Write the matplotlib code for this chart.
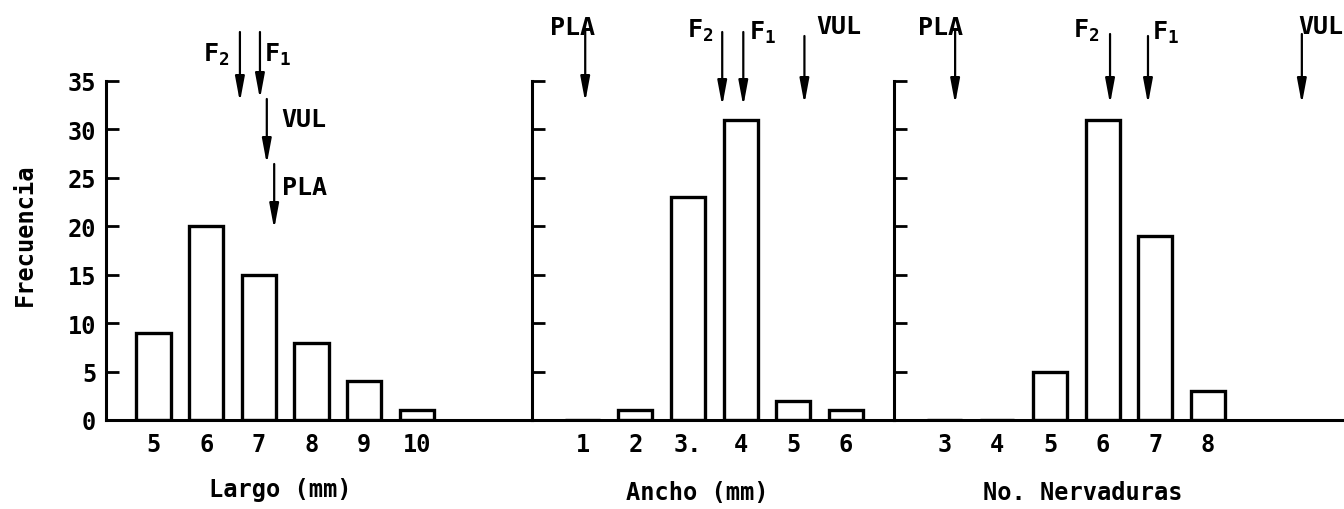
import matplotlib
matplotlib.use("Agg")
import matplotlib.pyplot as plt

# typewriter look
plt.rcParams['font.family'] = 'DejaVu Sans Mono'
plt.rcParams['font.weight'] = 'bold'
plt.rcParams['mathtext.fontset'] = 'custom'
plt.rcParams['mathtext.rm'] = 'DejaVu Sans Mono:bold'

# data
largo_x = [5, 6, 7, 8, 9, 10]
largo_labels = ['5', '6', '7', '8', '9', '10']
largo_freq = [9, 20, 15, 8, 4, 1]

ancho_x = [1, 2, 3, 4, 5, 6]
ancho_labels = ['1', '2', '3.', '4', '5', '6']
ancho_freq = [0, 1, 23, 31, 2, 1]

nerv_x = [3, 4, 5, 6, 7, 8]
nerv_labels = ['3', '4', '5', '6', '7', '8']
nerv_freq = [0, 0, 5, 31, 19, 3]

# mean value of each group (arrow positions)
largo_marks = ['F$_2$', 'F$_1$', 'VUL', 'PLA']
largo_means = [6.64, 7.02, 7.15, 7.29]
ancho_marks = ['PLA', 'F$_2$', 'F$_1$', 'VUL']
ancho_means = [1.05, 3.65, 4.05, 5.21]
nerv_marks = ['PLA', 'F$_2$', 'F$_1$', 'VUL']
nerv_means = [3.20, 6.14, 6.86, 9.78]

yticks = [0, 5, 10, 15, 20, 25, 30, 35]

W, H = 1344, 510
PX = 72 / 100  # points per pixel
Y0 = 421        # pixel row of frequency 0
UNIT = 9.686    # pixels per frequency unit
YTOP = Y0 / UNIT
FS = 17


def ydat(py):
    return (Y0 - py) / UNIT


def make_axes(fig, left_px, right_px, xlim):
    ax = fig.add_axes([left_px / W, (H - Y0) / H, (right_px - left_px) / W, Y0 / H])
    ax.set_xlim(*xlim)
    ax.set_ylim(0, YTOP)
    for s in ['top', 'right']:
        ax.spines[s].set_visible(False)
    ax.spines['left'].set_bounds(0, 35)
    ax.spines['left'].set_linewidth(2.2)
    ax.spines['bottom'].set_linewidth(2.2)
    ax.set_yticks(yticks)
    ax.tick_params(axis='y', direction='in', length=9, width=2, labelsize=FS, pad=7)
    ax.tick_params(axis='x', length=0, labelsize=FS, pad=9)
    ax.patch.set_alpha(0)
    return ax


def draw_bars(ax, x, freq, labels):
    ax.bar(x, freq, width=0.65, fill=False, edgecolor='black', linewidth=2.4)
    ax.set_xticks(x)
    ax.set_xticklabels(labels)


def draw_arrows(ax, marks, means, layout):
    # layout: (top px, bottom px, label dx px, label y px, ha)
    for m, xm, (top, bot, dx, ly, ha) in zip(marks, means, layout):
        ax.annotate('', xy=(xm, ydat(bot)), xytext=(xm, ydat(top)),
                    arrowprops=dict(arrowstyle='-|>,head_length=1.5,head_width=0.28',
                                    mutation_scale=10, lw=1.6, color='black',
                                    shrinkA=0, shrinkB=0))
        ax.annotate(m, xy=(xm, ydat(ly)), xytext=(dx * PX, 0), textcoords='offset points',
                    ha=ha, va='center', fontsize=FS + 1)


fig = plt.figure(figsize=(W / 100, H / 100), dpi=100)

# Largo
ax1 = make_axes(fig, 106, 532, (4.10, 12.18))
draw_bars(ax1, largo_x, largo_freq, largo_labels)
draw_arrows(ax1, largo_marks, largo_means, [
    (33, 103, -10, 55, 'right'),
    (33, 100, 4, 55, 'left'),
    (100, 165, 14, 120, 'left'),
    (165, 230, 8, 188, 'left'),
])
ax1.text(-0.19, 0.442, 'Frecuencia', transform=ax1.transAxes, rotation=90,
         ha='center', va='center', fontsize=FS)
ax1.text(0.408, -0.164, 'Largo (mm)', transform=ax1.transAxes,
         ha='center', va='center', fontsize=FS)

# Ancho
ax2 = make_axes(fig, 532, 894, (0.04, 6.91))
draw_bars(ax2, ancho_x, ancho_freq, ancho_labels)
ax2.tick_params(axis='y', labelleft=False)
draw_arrows(ax2, ancho_marks, ancho_means, [
    (30, 103, -13, 28, 'center'),
    (33, 107, -9, 31, 'right'),
    (33, 107, 6, 33, 'left'),
    (37, 105, 12, 27, 'left'),
])
ax2.text(0.456, -0.17, 'Ancho (mm)', transform=ax2.transAxes,
         ha='center', va='center', fontsize=FS)

# No. Nervaduras
ax3 = make_axes(fig, 894, 1344, (2.04, 10.58))
draw_bars(ax3, nerv_x, nerv_freq, nerv_labels)
ax3.tick_params(axis='y', labelleft=False)
draw_arrows(ax3, nerv_marks, nerv_means, [
    (30, 105, -15, 28, 'center'),
    (35, 105, -11, 31, 'right'),
    (37, 105, 4, 33, 'left'),
    (35, 105, -4, 27, 'left'),
])
ax3.text(0.42, -0.172, 'No. Nervaduras', transform=ax3.transAxes,
         ha='center', va='center', fontsize=FS)

fig.savefig('out.png', dpi=100)
